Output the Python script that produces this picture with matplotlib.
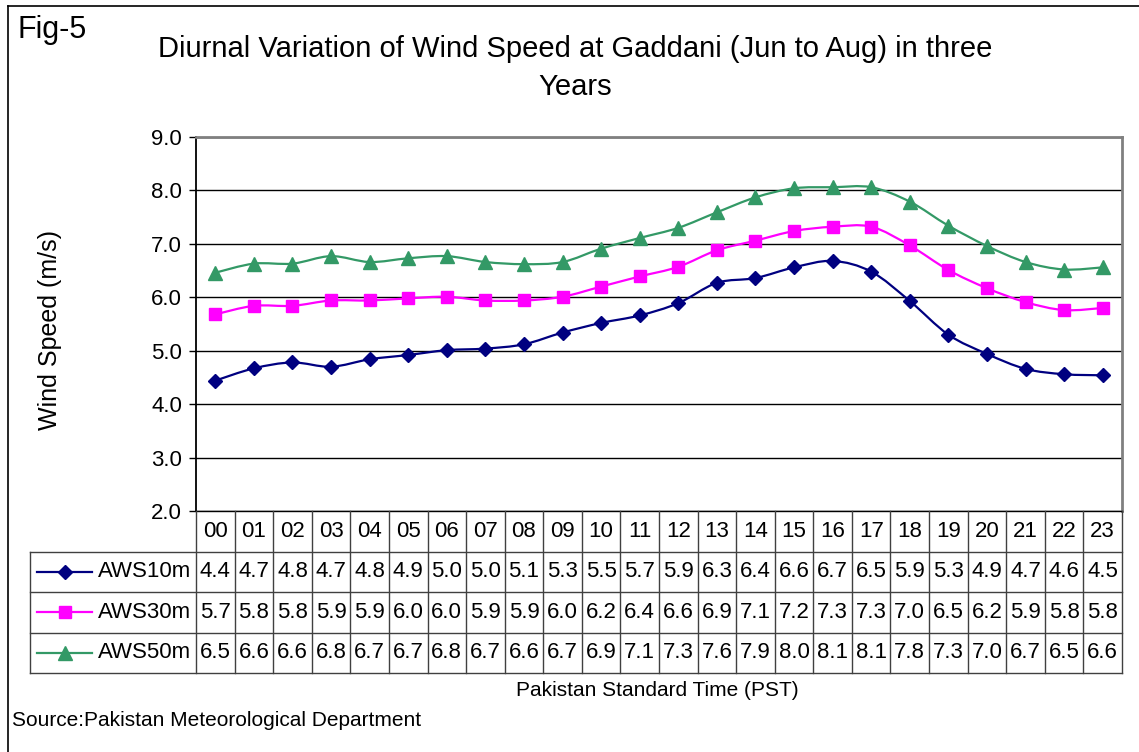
import numpy as np
import matplotlib
matplotlib.use("Agg")
import matplotlib.pyplot as plt
from matplotlib.path import Path
from matplotlib.patches import PathPatch
from matplotlib.lines import Line2D

plt.rcParams['font.family'] = ['Liberation Sans', 'DejaVu Sans']

hours = ["00", "01", "02", "03", "04", "05", "06", "07", "08", "09", "10", "11",
         "12", "13", "14", "15", "16", "17", "18", "19", "20", "21", "22", "23"]
aws10 = [4.44, 4.67, 4.78, 4.70, 4.84, 4.92, 5.01, 5.04, 5.12, 5.34, 5.52, 5.66,
         5.89, 6.27, 6.36, 6.56, 6.68, 6.48, 5.93, 5.30, 4.94, 4.66, 4.56, 4.54]
aws30 = [5.68, 5.84, 5.84, 5.94, 5.94, 5.98, 6.01, 5.94, 5.94, 6.01, 6.20, 6.39,
         6.57, 6.88, 7.06, 7.24, 7.32, 7.32, 6.97, 6.51, 6.17, 5.91, 5.76, 5.80]
aws50 = [6.46, 6.63, 6.63, 6.77, 6.66, 6.73, 6.77, 6.66, 6.62, 6.66, 6.91, 7.11,
         7.30, 7.59, 7.87, 8.04, 8.06, 8.06, 7.79, 7.34, 6.96, 6.66, 6.52, 6.56]
series_names = ["AWS10m", "AWS30m", "AWS50m"]
series_vals = [aws10, aws30, aws50]
colors = ["#000080", "#FF00FF", "#339966"]
markers = ["D", "s", "^"]
msizes = [7.5, 8, 9.5]

title = "Diurnal Variation of Wind Speed at Gaddani (Jun to Aug) in three\nYears"
ylabel = "Wind Speed (m/s)"
xlabel = "Pakistan Standard Time (PST)"
source = "Source:Pakistan Meteorological Department"
fig_tag = "Fig-5"

W, H = 1139, 752
fig = plt.figure(figsize=(W / 100, H / 100), dpi=100)
fig.patch.set_facecolor("white")

def fx(px):
    return px / W

def fy(py):
    return 1 - py / H

PL, PR, PT, PB, TB = 196, 1122, 137, 511, 673
ax = fig.add_axes([fx(PL), fy(PB), fx(PR) - fx(PL), fy(PT) - fy(PB)])
n = len(hours)
x = np.arange(n)
ax.set_xlim(-0.5, n - 0.5)
ax.set_ylim(2, 9)
ax.set_yticks(np.arange(2, 9.01, 1.0))
ax.set_yticklabels([f"{v:.1f}" for v in np.arange(2, 9.01, 1.0)], fontsize=16)
ax.set_xticks([])
ax.tick_params(axis='y', length=5, width=1, color='black', pad=5)
ax.yaxis.grid(True, color='black', lw=1)
ax.set_axisbelow(True)
for s in ['top', 'right']:
    ax.spines[s].set_color('#808080')
    ax.spines[s].set_linewidth(2)
ax.spines['left'].set_color('black')
ax.spines['left'].set_linewidth(1.3)
ax.spines['bottom'].set_color('black')
ax.spines['bottom'].set_linewidth(1)


def smooth_path(xs, ys):
    pts = np.column_stack([xs, ys]).astype(float)
    verts = [pts[0]]
    codes = [Path.MOVETO]
    m = len(pts)
    for i in range(m - 1):
        p0 = pts[i - 1] if i > 0 else pts[i]
        p1 = pts[i]
        p2 = pts[i + 1]
        p3 = pts[i + 2] if i + 2 < m else pts[i + 1]
        c1 = p1 + (p2 - p0) / 6.0
        c2 = p2 - (p3 - p1) / 6.0
        verts += [c1, c2, p2]
        codes += [Path.CURVE4] * 3
    return Path(verts, codes)

for vals, c, mk, ms in zip(series_vals, colors, markers, msizes):
    patch = PathPatch(smooth_path(x, vals), facecolor='none', edgecolor=c, lw=1.6, zorder=3)
    ax.add_patch(patch)
    ax.plot(x, vals, ls='none', marker=mk, ms=ms, color=c, mec=c, zorder=4)

# data table
tax = fig.add_axes([fx(PL), fy(TB), fx(PR) - fx(PL), fy(PB) - fy(TB)])
tax.set_xlim(-0.5, n - 0.5)
tax.set_ylim(0, 4)
tax.axis('off')
cellw = (PR - PL) / n
xl0 = -0.5 - (PL - 30) / cellw
lc = '#404040'
for yy in [0, 1, 2, 3]:
    tax.plot([xl0, n - 0.5], [yy, yy], color=lc, lw=1, clip_on=False)
for i in range(n + 1):
    tax.plot([-0.5 + i, -0.5 + i], [0, 4], color=lc, lw=1, clip_on=False)
tax.plot([xl0, xl0], [0, 3], color=lc, lw=1, clip_on=False)
for i, h in enumerate(hours):
    tax.text(i, 3.5, h, ha='center', va='center', fontsize=16)
key_l = -0.5 - (PL - 37) / cellw
key_r = -0.5 - (PL - 92) / cellw
lab_x = -0.5 - (PL - 98) / cellw
for r, (name, vals, c, mk, ms) in enumerate(zip(series_names, series_vals, colors, markers, msizes)):
    yc = 2.5 - r
    tax.add_line(Line2D([key_l, key_r], [yc, yc], color=c, lw=1.6, clip_on=False))
    tax.plot([(key_l + key_r) / 2], [yc], marker=mk, ms=ms, color=c, clip_on=False)
    tax.text(lab_x, yc, name, ha='left', va='center', fontsize=16)
    for i, v in enumerate(vals):
        tax.text(i, yc, f"{v:.1f}", ha='center', va='center', fontsize=16)

# texts
fig.text(fx(575), fy(68), title, ha='center', va='center', fontsize=21,
         multialignment='center', linespacing=1.45)
fig.text(fx(18), fy(30), fig_tag, ha='left', va='center', fontsize=22)
fig.text(fx(50), fy(330), ylabel, ha='center', va='center', rotation=90, fontsize=18)
fig.text(fx(657), fy(691), xlabel, ha='center', va='center', fontsize=15)
fig.text(fx(12), fy(720), source, ha='left', va='center', fontsize=15)

# outer border
fig.add_artist(Line2D([fx(8), fx(8)], [fy(6), 0], color='black', lw=1.2))
fig.add_artist(Line2D([fx(8), 1], [fy(6), fy(6)], color='black', lw=1.2))

fig.savefig("out.png", dpi=100)
